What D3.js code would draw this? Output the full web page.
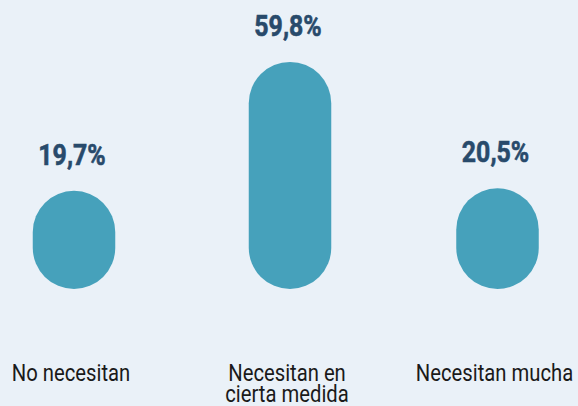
<!DOCTYPE html>
<html>
<head>
<meta charset="utf-8">
<script src="https://cdn.jsdelivr.net/npm/d3@7"></script>
<style>
  html, body { margin: 0; padding: 0; background: #eaf1f8; }
  svg { display: block; }
</style>
</head>
<body>
<div id="chart"></div>
<script>
// data
var categories = ["No necesitan", "Necesitan en cierta medida", "Necesitan mucha"];
var labelLines = [["No necesitan"], ["Necesitan en", "cierta medida"], ["Necesitan mucha"]];
var values = [19.7, 59.8, 20.5];

var width = 578, height = 406;
var base = 289;      // bottom of the pills
var barW = 82.5;

var svg = d3.select("#chart").append("svg")
  .attr("width", width)
  .attr("height", height);

svg.append("rect")
  .attr("width", width)
  .attr("height", height)
  .attr("fill", "#eaf1f8");

var x = d3.scaleOrdinal()
  .domain(categories)
  .range([74, 290, 497.5]);

// pills keep a minimum height, so the scale starts above the base line
var y = d3.scaleLinear()
  .domain([0, 60])
  .range([254.2, 61.3]);

var data = categories.map((c, i) => ({ name: c, value: values[i], lines: labelLines[i] }));
var fmt = v => d3.format(".1f")(v).replace(".", ",") + "%";

var g = svg.selectAll("g.bar")
  .data(data)
  .enter().append("g")
  .attr("class", "bar")
  .attr("transform", d => `translate(${x(d.name)},0)`);

g.append("rect")
  .attr("x", -barW / 2)
  .attr("y", d => y(d.value))
  .attr("width", barW)
  .attr("height", d => base - y(d.value))
  .attr("rx", barW / 2)
  .attr("ry", barW / 2)
  .attr("fill", "#46a1bb");

// condensed look: squeeze Roboto horizontally
g.append("text")
  .attr("transform", d => `translate(-2,${y(d.value) - 26}) scale(0.83,1)`)
  .attr("text-anchor", "middle")
  .style("font-family", "'Roboto', sans-serif")
  .style("font-weight", "bold")
  .style("font-size", "30px")
  .attr("fill", "#284a6b")
  .attr("stroke", "#284a6b")
  .attr("stroke-width", 0.6)
  .text(d => fmt(d.value));

var lab = g.append("text")
  .attr("transform", "translate(-3,0) scale(0.88,1)")
  .attr("text-anchor", "middle")
  .style("font-family", "'Roboto', sans-serif")
  .style("font-size", "23px")
  .attr("fill", "#1a1a1a");

lab.selectAll("tspan")
  .data(d => d.lines)
  .enter().append("tspan")
  .attr("x", 0)
  .attr("y", (l, i) => 381 + i * 21)
  .text(l => l);
</script>
</body>
</html>
